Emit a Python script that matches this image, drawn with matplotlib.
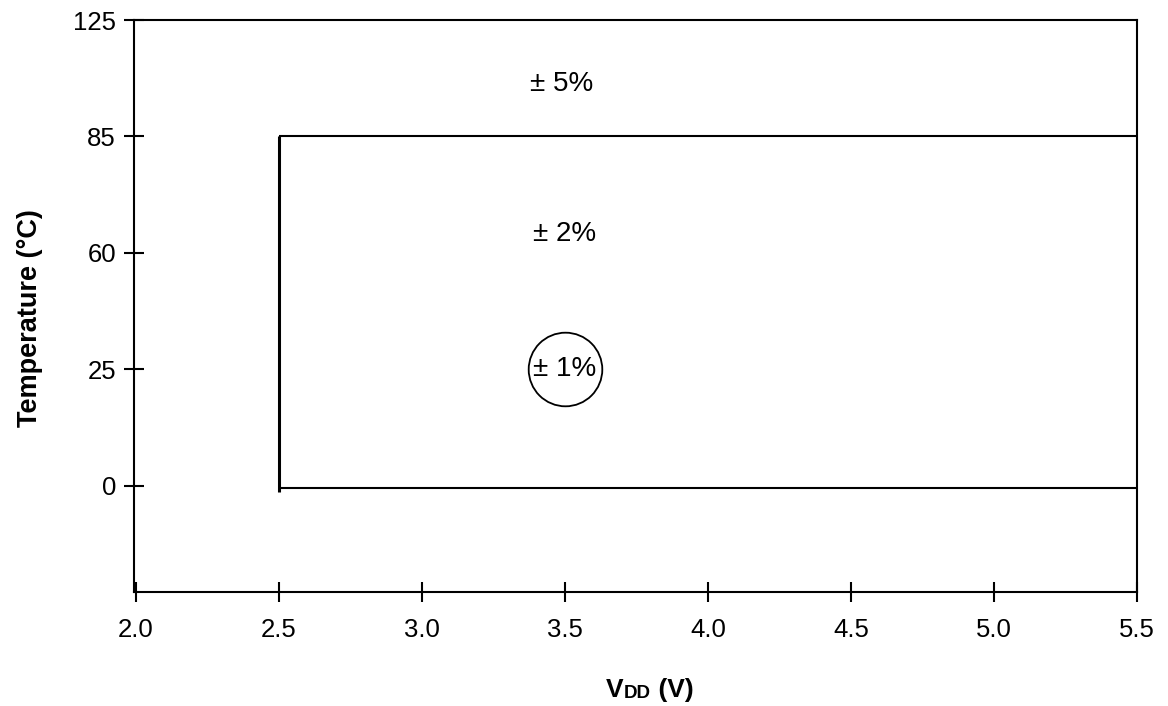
import numpy as np
import matplotlib
matplotlib.use("Agg")
import matplotlib.pyplot as plt

# ---- data ----
temp_ticks = [0, 25, 60, 85, 125]
vdd_ticks = [2.0, 2.5, 3.0, 3.5, 4.0, 4.5, 5.0, 5.5]
region_vdd = [2.5, 5.5]          # +/-2% region voltage span
region_temp = [0, 85]            # +/-2% region temperature span
circle_point = (3.5, 25)         # +/-1% point
labels = ["± 5%", "± 2%", "± 1%"]
label_vdd = [3.49, 3.5, 3.5]
label_temp = [103, 64, 25]
y_bottom = -22.75
x_left = 1.994

# piecewise mapping: tick values equally spaced
anchor_vals = [-25, 0, 25, 60, 85, 125]
anchor_pos = [-1, 0, 1, 2, 3, 4]

def fwd(v):
    return np.interp(v, anchor_vals, anchor_pos)

def inv(p):
    return np.interp(p, anchor_pos, anchor_vals)

plt.rcParams['font.family'] = ['Liberation Sans', 'DejaVu Sans']

fig = plt.figure(figsize=(11.68, 7.06), dpi=100)
ax = fig.add_axes([134/1168, 114/706, (1137-134)/1168, (592-20)/706])
ax.set_yscale('function', functions=(fwd, inv))
ax.set_xlim(x_left, vdd_ticks[-1])
ax.set_ylim(y_bottom, temp_ticks[-1])

lw = 1.5
for s in ax.spines.values():
    s.set_linewidth(lw)
    s.set_color('black')

ax.set_xticks(vdd_ticks)
ax.set_xticklabels([f"{v:.1f}" for v in vdd_ticks])
ax.set_yticks(temp_ticks)
ax.set_yticklabels([str(t) for t in temp_ticks])
ax.yaxis.set_minor_locator(matplotlib.ticker.NullLocator())
ax.tick_params(axis='x', direction='inout', length=14, width=lw, labelsize=18.5, pad=11.5)
ax.tick_params(axis='y', direction='inout', length=14, width=lw, labelsize=18.5, pad=6)

# region rectangle (right side coincides with spine)
x0, x1 = region_vdd
y0, y1 = region_temp
ax.plot([x0, x1], [y1, y1], color='black', lw=1.5, solid_capstyle='butt')
ax.plot([x0, x1], [y0 - 0.5, y0 - 0.5], color='black', lw=1.5, solid_capstyle='butt', clip_on=False)
ax.plot([x0, x0], [y1, y0 - 1.2], color='black', lw=2.2, solid_capstyle='butt')

# circle
ax.plot([circle_point[0]], [circle_point[1]], 'o', ms=53, mfc='none', mec='black', mew=1.3)

for t, xv, yv in zip(labels, label_vdd, label_temp):
    ax.text(xv, yv, t, ha='center', va='center', fontsize=20)

# axis labels
fig.text(30/1168, 1 - 318/706, "Temperature (°C)", rotation=90, ha='center', va='center',
         fontsize=19.5, fontweight='bold')
t1 = fig.text(606/1168, 1 - 702/706, "V", ha='left', va='bottom', fontsize=19, fontweight='bold')
a2 = ax.annotate("DD", xy=(1, 0), xycoords=t1, ha='left', va='bottom',
                 fontsize=13.5, fontweight='bold', annotation_clip=False)
a3 = ax.annotate(" (V)", xy=(1, 0), xycoords=a2, ha='left', va='bottom',
                 fontsize=19, fontweight='bold', annotation_clip=False)

fig.savefig("out.png", dpi=100)
